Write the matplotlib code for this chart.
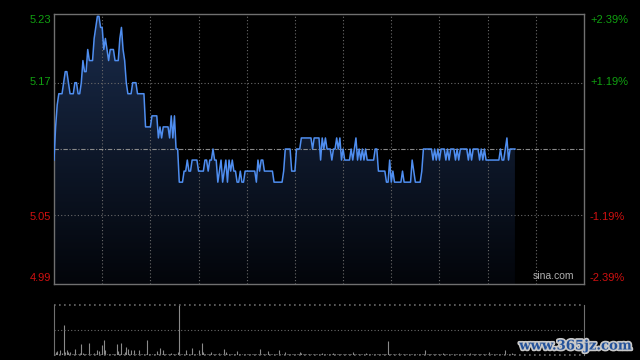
import numpy as np
import matplotlib
matplotlib.use('Agg')
import matplotlib.pyplot as plt
from matplotlib.colors import LinearSegmentedColormap
import matplotlib.patheffects as pe

# intraday minute prices (HK session, 330 minutes, data up to minute 287)
prices = [
    5.10, 5.13, 5.15, 5.16, 5.16, 5.16, 5.17, 5.18, 5.18, 5.17, 5.16, 5.16,
    5.16, 5.17, 5.17, 5.16, 5.16, 5.17, 5.19, 5.18, 5.18, 5.20, 5.19, 5.19,
    5.19, 5.21, 5.22, 5.23, 5.23, 5.22, 5.22, 5.20, 5.21, 5.20, 5.19, 5.20,
    5.20, 5.20, 5.19, 5.19, 5.19, 5.21, 5.22, 5.20, 5.19, 5.17, 5.16, 5.16,
    5.16, 5.17, 5.17, 5.17, 5.16, 5.16, 5.16, 5.16, 5.16, 5.13, 5.13, 5.13,
    5.13, 5.14, 5.14, 5.14, 5.14, 5.12, 5.13, 5.12, 5.13, 5.13, 5.13, 5.13,
    5.12, 5.14, 5.12, 5.14, 5.11, 5.11, 5.08, 5.08, 5.08, 5.09, 5.09, 5.10,
    5.09, 5.09, 5.10, 5.10, 5.10, 5.10, 5.09, 5.09, 5.09, 5.09, 5.10, 5.10,
    5.09, 5.10, 5.10, 5.11, 5.10, 5.10, 5.08, 5.09, 5.10, 5.08, 5.09, 5.10,
    5.08, 5.10, 5.09, 5.10, 5.09, 5.09, 5.08, 5.08, 5.09, 5.08, 5.08, 5.09,
    5.09, 5.09, 5.09, 5.09, 5.09, 5.09, 5.08, 5.10, 5.09, 5.10, 5.10, 5.09,
    5.09, 5.09, 5.09, 5.09, 5.09, 5.08, 5.08, 5.08, 5.08, 5.08, 5.08, 5.09,
    5.11, 5.11, 5.11, 5.11, 5.09, 5.09, 5.09, 5.11, 5.11, 5.11, 5.12, 5.12,
    5.12, 5.12, 5.12, 5.12, 5.12, 5.11, 5.12, 5.12, 5.12, 5.12, 5.10, 5.12,
    5.11, 5.12, 5.11, 5.11, 5.11, 5.10, 5.11, 5.11, 5.12, 5.11, 5.12, 5.10,
    5.11, 5.10, 5.10, 5.10, 5.10, 5.11, 5.10, 5.11, 5.12, 5.10, 5.11, 5.10,
    5.11, 5.10, 5.11, 5.10, 5.10, 5.10, 5.10, 5.10, 5.11, 5.11, 5.09, 5.09,
    5.09, 5.09, 5.09, 5.08, 5.08, 5.10, 5.08, 5.09, 5.08, 5.08, 5.08, 5.08,
    5.08, 5.09, 5.08, 5.08, 5.08, 5.08, 5.08, 5.10, 5.09, 5.08, 5.08, 5.08,
    5.08, 5.09, 5.11, 5.11, 5.11, 5.11, 5.11, 5.11, 5.10, 5.11, 5.10, 5.11,
    5.10, 5.11, 5.11, 5.11, 5.10, 5.11, 5.10, 5.11, 5.11, 5.11, 5.10, 5.11,
    5.10, 5.11, 5.11, 5.11, 5.11, 5.11, 5.10, 5.11, 5.10, 5.11, 5.11, 5.11,
    5.11, 5.10, 5.11, 5.10, 5.11, 5.10, 5.10, 5.10, 5.10, 5.10, 5.10, 5.10,
    5.10, 5.10, 5.11, 5.10, 5.10, 5.11, 5.12, 5.10, 5.11, 5.11, 5.11, 5.11,
]

# minute volumes (relative units)
volumes = [
    80, 70, 80, 30, 100, 50, 600, 60, 100, 60, 70, 25,
    20, 130, 30, 25, 35, 230, 40, 20, 30, 25, 250, 30,
    20, 40, 25, 110, 90, 30, 200, 310, 110, 25, 20, 30,
    25, 20, 30, 230, 80, 25, 250, 30, 60, 170, 130, 25,
    100, 30, 100, 20, 25, 110, 30, 20, 25, 30, 300, 25,
    20, 30, 25, 20, 80, 25, 150, 20, 110, 25, 30, 20,
    25, 50, 20, 30, 25, 70, 1000, 30, 25, 20, 100, 30,
    25, 20, 150, 25, 20, 30, 100, 20, 240, 60, 25, 20,
    30, 20, 60, 25, 20, 15, 25, 40, 20, 25, 130, 70,
    20, 15, 25, 20, 15, 20, 80, 20, 15, 25, 20, 15,
    20, 15, 25, 20, 15, 20, 15, 25, 130, 20, 15, 20,
    25, 80, 20, 15, 20, 25, 15, 20, 100, 15, 20, 25,
    70, 20, 15, 25, 20, 15, 20, 25, 15, 60, 40, 20,
    15, 20, 25, 15, 20, 15, 25, 20, 15, 20, 25, 50,
    20, 15, 20, 25, 15, 20, 40, 15, 20, 25, 15, 20,
    15, 20, 25, 15, 20, 15, 60, 20, 15, 25, 20, 15,
    20, 15, 50, 20, 15, 25, 20, 15, 20, 25, 15, 20,
    25, 15, 20, 30, 280, 20, 15, 25, 20, 15, 20, 40,
    20, 15, 25, 20, 15, 20, 25, 15, 20, 25, 15, 20,
    15, 20, 25, 100, 20, 15, 20, 25, 15, 20, 25, 15,
    20, 15, 50, 20, 25, 15, 20, 25, 15, 20, 15, 25,
    20, 15, 25, 20, 15, 20, 25, 50, 15, 20, 25, 15,
    20, 15, 25, 20, 15, 20, 25, 60, 15, 20, 25, 15,
    20, 15, 25, 20, 15, 100, 20, 25, 15, 40, 20, 15,
]

prev_close = 5.11
pct = 0.0239
left_labels = ['5.23', '5.17', '5.05', '4.99']
right_labels = ['+2.39%', '+1.19%', '-1.19%', '-2.39%']
total_minutes = 330

W, H = 640, 360
fig = plt.figure(figsize=(W / 100, H / 100), dpi=100, facecolor='black')


def fx(px):
    return px / W


def fy(py):
    return 1 - py / H


ylo = prev_close * (1 - pct)
yhi = prev_close * (1 + pct)
x = np.arange(len(prices))
grid_col = '#6a6a6a'
spine_col = '#707070'

# ---- price panel
ax = fig.add_axes([fx(54), fy(284), fx(530), 270 / H])
ax.set_facecolor('black')

cmap = LinearSegmentedColormap.from_list('g', ['#03050a', '#1a2c4c'])
grad = np.linspace(1, 0, 256).reshape(-1, 1)
poly = ax.fill_between(x, prices, ylo, color='none', lw=0)
im = ax.imshow(grad, extent=[0, total_minutes, ylo, yhi], aspect='auto',
               cmap=cmap, vmin=0, vmax=1, zorder=1)
im.set_clip_path(poly.get_paths()[0], transform=ax.transData)

for k in range(1, 11):
    ax.axvline(30 * k, color=grid_col, lw=0.8, ls=(0, (1, 2)), zorder=2)
for v in (5.17, 5.05):
    ax.axhline(v, color=grid_col, lw=0.8, ls=(0, (1, 2)), zorder=2)
ax.axhline(prev_close, color='#8a8a8a', lw=0.8, ls=(0, (4, 1.5, 1, 1.5)), zorder=2)

ax.plot(x, prices, color='#4f8ef0', lw=1.1, zorder=3)

ax.set_xlim(0, total_minutes)
ax.set_ylim(ylo, yhi)
ax.set_xticks([])
ax.set_yticks([])
for s in ax.spines.values():
    s.set_color(spine_col)
    s.set_linewidth(1)

ax.text(0.982, 0.012, 'sina.com', transform=ax.transAxes, ha='right', va='bottom',
        color='#b0b0b0', fontsize=7.5, family='Liberation Sans', zorder=4)

# ---- axis labels
green, red = '#10a010', '#d01010'
lab_y = [20, 82, 217, 278]
cols = [green, green, red, red]
for lbl, rl, yy, c in zip(left_labels, right_labels, lab_y, cols):
    fig.text(fx(51), fy(yy), lbl, ha='right', va='center', color=c,
             fontsize=8, family='Liberation Sans')
    fig.text(fx(590), fy(yy), rl, ha='left', va='center', color=c,
             fontsize=8, family='Liberation Sans')

# ---- volume panel
axv = fig.add_axes([fx(54), fy(355), fx(530), 50 / H])
axv.set_facecolor('black')
axv.vlines(x, 0, volumes, color='#8a8a8a', lw=0.8)
axv.set_xlim(0, total_minutes)
axv.set_ylim(0, max(volumes))
axv.axhline(max(volumes) / 2, color=grid_col, lw=0.8, ls=(0, (1, 2)))
axv.axhline(max(volumes), color=grid_col, lw=1.2, ls=(0, (1, 2)), clip_on=False)
axv.axhline(0, color=grid_col, lw=1.2, ls=(0, (1, 2)), clip_on=False)
axv.set_xticks([])
axv.set_yticks([])
for side in ('top', 'bottom'):
    axv.spines[side].set_visible(False)
for side in ('left', 'right'):
    axv.spines[side].set_color(spine_col)

# ---- watermark
fig.text(fx(632), fy(346), 'www.365jz.com', ha='right', va='center',
         color='#24529a', fontsize=9.5, fontweight='bold', family='DejaVu Serif',
         path_effects=[pe.withStroke(linewidth=2.5, foreground='#c8c8c8')])

fig.savefig('out.png', dpi=100, facecolor='black')
